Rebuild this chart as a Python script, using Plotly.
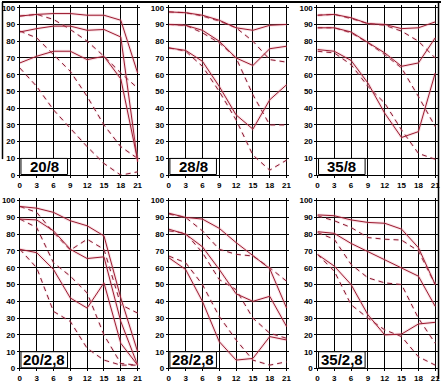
import plotly.graph_objects as go

# ---------------- data ----------------
days = [0, 3, 6, 9, 12, 15, 18, 21]
y_ticks = [0, 10, 20, 30, 40, 50, 60, 70, 80, 90, 100]
panel_labels = ["20/8", "28/8", "35/8", "20/2,8", "28/2,8", "35/2,8"]

# panel 1: 20/8
p1_solid_hi = [95, 96, 96.5, 96.5, 95.5, 95.5, 92.5, 61]
p1_solid_mid = [85.5, 87.5, 89, 89, 86.5, 87, 82.5, 8]
p1_solid_lo = [67, 71, 74, 74, 69, 71, 57.5, 9]
p1_dash_hi = [95, 96, 93, 87, 80, 71, 61, 52]
p1_dash_mid = [86, 82, 72, 62, 47, 30, 17, 10]
p1_dash_lo = [64, 53, 39, 28, 17, 7, 0, 2]

# panel 2: 28/8
p2_solid_hi = [97.5, 97, 95.5, 92.5, 88, 86.5, 89.5, 90]
p2_solid_mid = [90, 89.5, 86.5, 80, 70, 65.5, 75.5, 77]
p2_solid_lo = [76, 74.5, 68, 53, 36, 27.5, 45, 54]
p2_dash_hi = [97.5, 97, 95, 92, 88, 80, 69, 67.5]
p2_dash_mid = [90, 89.5, 85, 79, 70, 48, 30, 30]
p2_dash_lo = [76, 74, 65, 50, 33, 12, 3, 9]

# panel 3: 35/8
p3_solid_hi = [95.5, 96, 94, 90.5, 90, 87.5, 88, 91.5]
p3_solid_mid = [88, 88, 85.5, 79, 73, 65, 67, 82]
p3_solid_lo = [75, 74, 68.5, 55, 37, 22.5, 26, 61]
p3_dash_hi = [95.5, 96, 93.5, 90.5, 89.5, 86, 80, 70]
p3_dash_mid = [88, 88, 85, 79, 72, 64, 47, 29]
p3_dash_lo = [74, 73, 66, 53, 43, 27, 13, 9.5]

# panel 4: 20/2,8
p4_solid_hi = [96.5, 95.5, 93, 88, 85, 79, 42, 10]
p4_solid_mid = [89, 88.5, 82, 71, 65.5, 66.5, 28, 2]
p4_solid_lo = [71, 69, 59, 42, 36, 51, 15, 2]
p4_dash_hi = [96.5, 93, 81, 70.5, 77, 71, 38, 33]
p4_dash_mid = [89, 84, 63, 55, 45, 20, 3, 2]
p4_dash_lo = [71, 60, 34, 28, 12, 5, 2, 2]

# panel 5: 28/2,8
p5_solid_hi = [92.5, 90, 89, 83.5, 75, 67, 59.5, 36]
p5_solid_mid = [83, 80, 72.5, 59, 44.5, 40, 43, 25]
p5_solid_lo = [66, 59, 40, 16, 5, 6, 19, 17]
p5_dash_hi = [92, 90, 82, 71, 68, 67, 60, 52]
p5_dash_mid = [82, 80.5, 69, 53, 47, 30, 21, 18]
p5_dash_lo = [67, 63, 50, 31, 17, 5, 2, 4]

# panel 6: 35/2,8
p6_solid_hi = [91.5, 91, 88.5, 87, 86.5, 83, 72, 50]
p6_solid_mid = [81.5, 80.5, 74.5, 69.5, 65, 60, 55, 37]
p6_solid_lo = [68, 61, 50, 32, 20, 20.5, 26.5, 27.5]
p6_dash_hi = [91, 88, 84, 78, 77, 76.5, 70, 50]
p6_dash_mid = [81, 77, 62, 54, 51, 50, 30, 15]
p6_dash_lo = [68, 58, 38, 30, 23, 19, 7, 2]

panels = [
    ([p1_solid_hi, p1_solid_mid, p1_solid_lo], [p1_dash_hi, p1_dash_mid, p1_dash_lo]),
    ([p2_solid_hi, p2_solid_mid, p2_solid_lo], [p2_dash_hi, p2_dash_mid, p2_dash_lo]),
    ([p3_solid_hi, p3_solid_mid, p3_solid_lo], [p3_dash_hi, p3_dash_mid, p3_dash_lo]),
    ([p4_solid_hi, p4_solid_mid, p4_solid_lo], [p4_dash_hi, p4_dash_mid, p4_dash_lo]),
    ([p5_solid_hi, p5_solid_mid, p5_solid_lo], [p5_dash_hi, p5_dash_mid, p5_dash_lo]),
    ([p6_solid_hi, p6_solid_mid, p6_solid_lo], [p6_dash_hi, p6_dash_mid, p6_dash_lo]),
]

# ---------------- layout geometry ----------------
W, H = 443, 384
col_x0 = [18.0, 168.3, 318.3]      # pixel of x=0 per column
px_per_x = 5.66
row_y0 = [176.4, 373.3]            # pixel of y=0 per row
px_per_y = [1.706, 1.71]
x_max, y_max = 21.5, 101.5

SOLID = "#9c1a30"
DASH = "#8a1a32"
HALO = "rgba(235,150,165,0.28)"
FONT = "Liberation Sans"

fig = go.Figure()
layout = dict(
    width=W, height=H, margin=dict(l=0, r=0, t=0, b=0),
    paper_bgcolor="white", plot_bgcolor="white", showlegend=False,
)
shapes, annotations = [], []

for i, (solids, dashes) in enumerate(panels):
    r, c = divmod(i, 3)
    xs = "" if i == 0 else str(i + 1)
    xd = [col_x0[c] / W, (col_x0[c] + x_max * px_per_x) / W]
    yd = [(H - row_y0[r]) / H, (H - (row_y0[r] - y_max * px_per_y[r])) / H]
    common = dict(
        showgrid=True, gridcolor="black", gridwidth=1,
        showline=True, linecolor="black", linewidth=1,
        ticks="outside", ticklen=2, tickcolor="black",
        tickfont=dict(family=FONT, size=8, color="black", weight="bold"),
        zeroline=False, fixedrange=True,
    )
    layout["xaxis" + xs] = dict(
        domain=xd, range=[0, x_max], anchor="y" + xs,
        tickvals=days, ticktext=[str(d) for d in days], **common)
    layout["yaxis" + xs] = dict(
        domain=yd, range=[0, y_max], anchor="x" + xs,
        tickvals=y_ticks, ticktext=[str(v) for v in y_ticks], **common)

    for series in dashes:
        fig.add_trace(go.Scatter(x=days, y=series, mode="lines", xaxis="x" + xs, yaxis="y" + xs,
                                 line=dict(color=HALO, width=2.5, dash="5px,4px"), hoverinfo="skip"))
        fig.add_trace(go.Scatter(x=days, y=series, mode="lines", xaxis="x" + xs, yaxis="y" + xs,
                                 line=dict(color=DASH, width=1, dash="5px,4px")))
    for series in solids:
        fig.add_trace(go.Scatter(x=days, y=series, mode="lines", xaxis="x" + xs, yaxis="y" + xs,
                                 line=dict(color=HALO, width=3), hoverinfo="skip"))
        fig.add_trace(go.Scatter(x=days, y=series, mode="lines", xaxis="x" + xs, yaxis="y" + xs,
                                 line=dict(color=SOLID, width=1)))

    shapes.append(dict(type="rect", xref="x" + xs, yref="y" + xs, x0=0.2, x1=8.5, y0=0.4, y1=10,
                       fillcolor="white", line=dict(color="black", width=1), layer="above"))
    annotations.append(dict(xref="x" + xs, yref="y" + xs, x=4.35, y=5.2, text="<b>%s</b>" % panel_labels[i],
                            showarrow=False, font=dict(family=FONT, size=15, color="black"),
                            xanchor="center", yanchor="middle"))

# outer frame lines seen in the reference
shapes.append(dict(type="line", xref="paper", yref="paper", x0=0, x1=1, y0=1, y1=1,
                   line=dict(color="black", width=2)))
shapes.append(dict(type="line", xref="paper", yref="paper", x0=440.5 / W, x1=440.5 / W, y0=0, y1=1,
                   line=dict(color="black", width=1.5)))
shapes.append(dict(type="line", xref="paper", yref="paper", x0=0.5 / W, x1=0.5 / W, y0=1 - 160 / H, y1=1,
                   line=dict(color="black", width=1.5)))

layout["shapes"] = shapes
layout["annotations"] = annotations
fig.update_layout(**layout)
fig.write_html("out.html", config={"displayModeBar": False},
               post_script="document.body.style.margin='0';document.body.style.overflow='hidden';")
